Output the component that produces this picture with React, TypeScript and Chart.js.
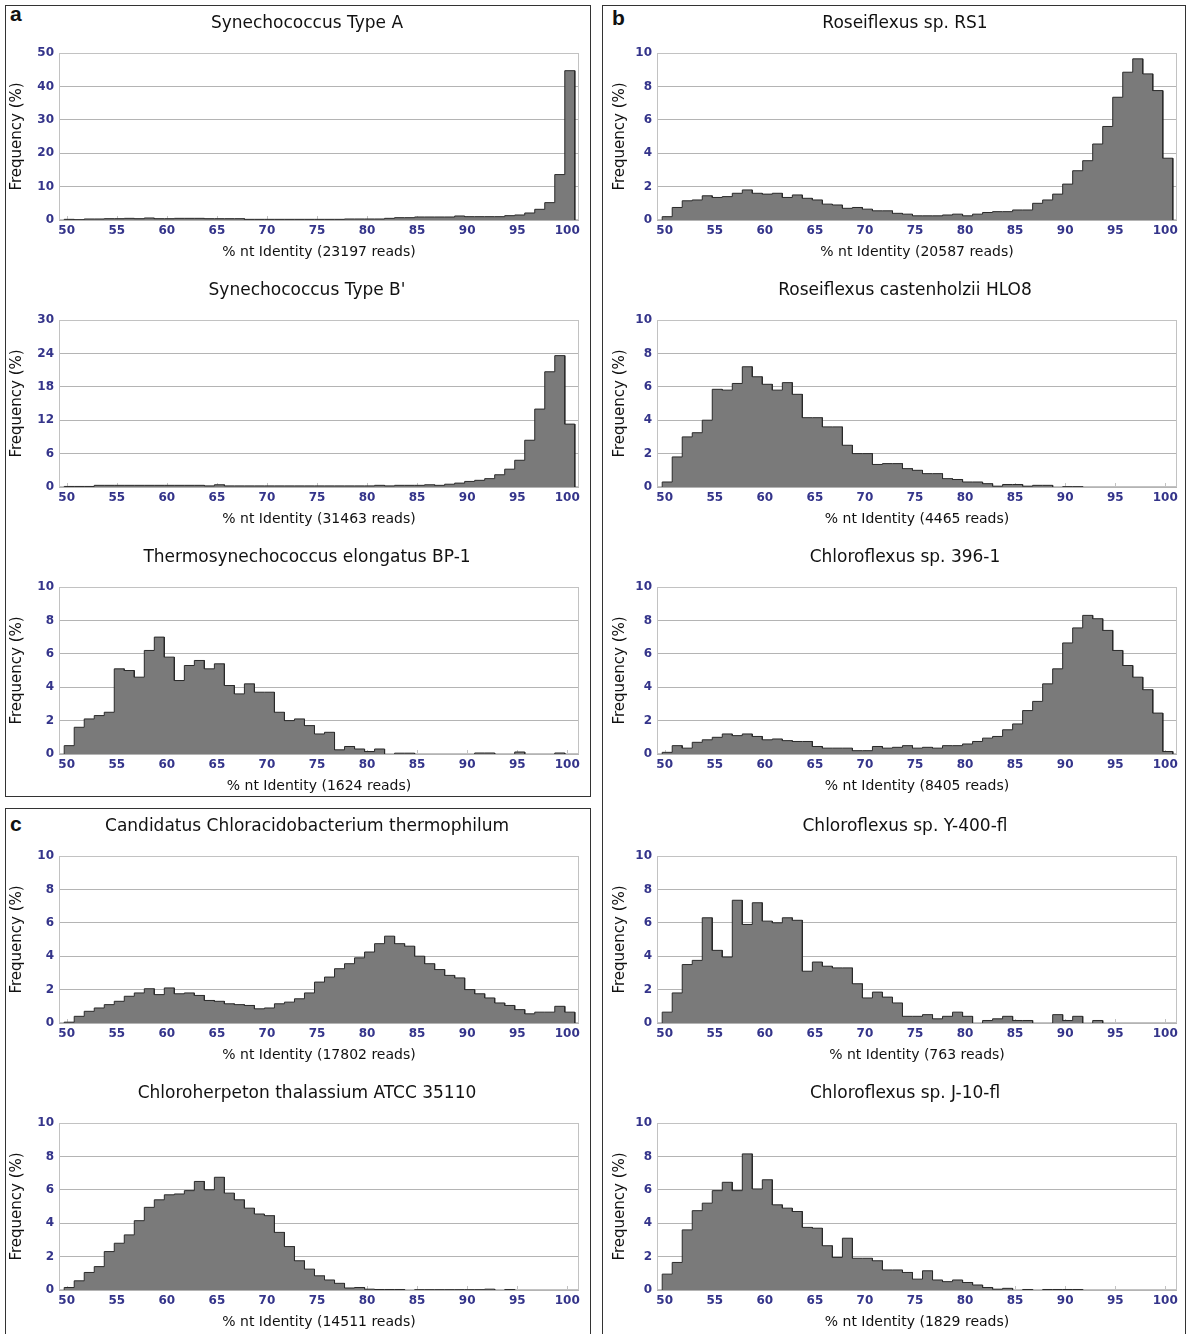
import React, { useEffect, useRef } from 'react';
import { Chart, registerables } from 'chart.js';

Chart.register(...registerables);

// ---------- data ----------
const BINS = [
  50, 51, 52, 53, 54, 55, 56, 57, 58, 59,
  60, 61, 62, 63, 64, 65, 66, 67, 68, 69,
  70, 71, 72, 73, 74, 75, 76, 77, 78, 79,
  80, 81, 82, 83, 84, 85, 86, 87, 88, 89,
  90, 91, 92, 93, 94, 95, 96, 97, 98, 99,
  100,
];
const X_TICKS = [50, 55, 60, 65, 70, 75, 80, 85, 90, 95, 100];
const Y_TICKS_A = [0, 10, 20, 30, 40, 50];
const Y_TICKS_B = [0, 6, 12, 18, 24, 30];
const Y_TICKS_STD = [0, 2, 4, 6, 8, 10];

const SYN_A = [
  0.2, 0.1, 0.3, 0.3, 0.4, 0.4, 0.5, 0.4, 0.6, 0.4,
  0.4, 0.5, 0.5, 0.5, 0.4, 0.4, 0.4, 0.4, 0.2, 0.2,
  0.2, 0.2, 0.2, 0.2, 0.2, 0.2, 0.2, 0.2, 0.3, 0.3,
  0.3, 0.3, 0.5, 0.7, 0.7, 0.9, 0.9, 0.9, 0.9, 1.2,
  1.0, 1.0, 1.0, 1.0, 1.3, 1.5, 2.1, 3.2, 5.2, 13.6,
  44.7,
];
const SYN_B = [
  0.1, 0.1, 0.1, 0.3, 0.3, 0.3, 0.3, 0.3, 0.3, 0.3,
  0.3, 0.3, 0.3, 0.3, 0.2, 0.4, 0.2, 0.2, 0.2, 0.2,
  0.2, 0.2, 0.2, 0.2, 0.2, 0.2, 0.2, 0.2, 0.2, 0.2,
  0.2, 0.3, 0.2, 0.3, 0.3, 0.3, 0.4, 0.3, 0.5, 0.7,
  1.0, 1.2, 1.5, 2.2, 3.2, 4.8, 8.4, 14.0, 20.7, 23.6,
  11.3,
];
const THERMO = [
  0.5, 1.6, 2.1, 2.3, 2.5, 5.1, 5.0, 4.6, 6.2, 7.0,
  5.8, 4.4, 5.3, 5.6, 5.1, 5.4, 4.1, 3.6, 4.2, 3.7,
  3.7, 2.5, 2.0, 2.1, 1.7, 1.2, 1.3, 0.25, 0.45, 0.3,
  0.15, 0.3, 0, 0.05, 0.05, 0, 0, 0, 0, 0,
  0, 0.06, 0.06, 0, 0, 0.12, 0, 0, 0, 0.06,
  0,
];
const CANDIDATUS = [
  0.05, 0.4, 0.7, 0.9, 1.1, 1.3, 1.6, 1.8, 2.05, 1.7,
  2.1, 1.75, 1.8, 1.65, 1.35, 1.3, 1.15, 1.1, 1.05, 0.85,
  0.9, 1.15, 1.25, 1.45, 1.8, 2.45, 2.75, 3.25, 3.55, 3.9,
  4.25, 4.75, 5.2, 4.75, 4.6, 4.0, 3.55, 3.2, 2.85, 2.7,
  2.0, 1.75, 1.5, 1.2, 1.05, 0.8, 0.55, 0.65, 0.65, 1.0,
  0.65,
];
const CHLOROHERPETON = [
  0.15, 0.55, 1.05, 1.4, 2.3, 2.8, 3.3, 4.15, 4.95, 5.4,
  5.7, 5.75, 5.95, 6.5, 6.0, 6.75, 5.8, 5.4, 4.9, 4.55,
  4.45, 3.45, 2.6, 1.75, 1.25, 0.85, 0.6, 0.4, 0.12, 0.15,
  0.05, 0.03, 0.03, 0.03, 0, 0.02, 0.02, 0.02, 0.02, 0.02,
  0.02, 0.02, 0.05, 0, 0.03, 0, 0, 0, 0, 0,
  0,
];
const ROSE_RS1 = [
  0.2, 0.75, 1.15, 1.2, 1.45, 1.35, 1.4, 1.6, 1.8, 1.6,
  1.55, 1.6, 1.35, 1.5, 1.3, 1.2, 0.95, 0.9, 0.7, 0.75,
  0.65, 0.55, 0.55, 0.4, 0.35, 0.25, 0.25, 0.25, 0.3, 0.35,
  0.25, 0.35, 0.45, 0.5, 0.5, 0.6, 0.6, 1.0, 1.2, 1.55,
  2.15, 2.95, 3.55, 4.55, 5.6, 7.35, 8.85, 9.65, 8.75, 7.75,
  3.7,
];
const ROSE_HLO8 = [
  0.3, 1.8, 3.0, 3.25, 4.0, 5.85, 5.8, 6.2, 7.2, 6.6,
  6.15, 5.8, 6.25, 5.55, 4.15, 4.15, 3.6, 3.6, 2.5, 2.0,
  2.0, 1.35, 1.4, 1.4, 1.1, 1.0, 0.8, 0.8, 0.5, 0.45,
  0.3, 0.3, 0.2, 0.05, 0.15, 0.15, 0.05, 0.1, 0.1, 0,
  0.02, 0.02, 0, 0, 0, 0, 0, 0, 0, 0,
  0,
];
const CF_396 = [
  0.1, 0.5, 0.35, 0.7, 0.85, 1.0, 1.2, 1.1, 1.2, 1.05,
  0.85, 0.9, 0.8, 0.75, 0.75, 0.45, 0.35, 0.35, 0.35, 0.2,
  0.2, 0.45, 0.35, 0.4, 0.5, 0.35, 0.4, 0.35, 0.5, 0.5,
  0.6, 0.75, 0.95, 1.05, 1.45, 1.8, 2.6, 3.15, 4.2, 5.1,
  6.65, 7.55, 8.3, 8.1, 7.4, 6.2, 5.3, 4.6, 3.85, 2.45,
  0.15,
];
const CF_Y400 = [
  0.65, 1.8, 3.5, 3.75, 6.3, 4.35, 3.95, 7.35, 5.9, 7.2,
  6.1, 6.0, 6.3, 6.15, 3.1, 3.65, 3.4, 3.3, 3.3, 2.35,
  1.5, 1.85, 1.55, 1.2, 0.4, 0.4, 0.5, 0.25, 0.4, 0.65,
  0.4, 0, 0.15, 0.25, 0.4, 0.15, 0.15, 0, 0, 0.5,
  0.15, 0.4, 0, 0.15, 0, 0, 0, 0, 0, 0,
  0,
];
const CF_J10 = [
  0.95, 1.65, 3.6, 4.75, 5.2, 5.95, 6.45, 5.95, 8.15, 6.05,
  6.6, 5.1, 4.9, 4.7, 3.75, 3.7, 2.65, 1.95, 3.1, 1.9,
  1.9, 1.75, 1.2, 1.2, 1.05, 0.65, 1.15, 0.6, 0.5, 0.6,
  0.45, 0.3, 0.15, 0.05, 0.1, 0, 0.03, 0, 0.03, 0.03,
  0.03, 0.03, 0, 0, 0, 0, 0, 0, 0, 0,
  0,
];

// ---------- styles / layout ----------
const FONT = '"DejaVu Sans", Verdana, sans-serif';
const TICK_COLOR = '#34348a';
const GRID_COLOR = '#b4b4b4';
const FRAME_COLOR = '#c2c2c2';
const FILL_COLOR = '#7a7a7a';
const EDGE_COLOR = '#2a2a2a';
const BIN_OFFSET = -0.25;
const X_MIN = 49.23;
const X_MAX = 101.17;

const CANVAS_W = 598;
const CANVAS_H = 253;
const TITLE_SPACE = 43;
const PLOT_H = 167;
const PLOT_TOPS = [53, 320, 587, 856, 1123];
const LEFT_COL_X = 8;
const RIGHT_COL_X = 606;

const framePlugin = {
  id: 'plotFrame',
  beforeDatasetsDraw(chart: any) {
    const { ctx, chartArea: a, scales } = chart;
    ctx.save();
    ctx.strokeStyle = FRAME_COLOR;
    ctx.lineWidth = 1;
    ctx.strokeRect(a.left + 0.5, a.top + 0.5, a.right - a.left - 1, a.bottom - a.top - 1);
    const xs = scales.x;
    xs.ticks.forEach((t: any) => {
      const px = Math.round(xs.getPixelForValue(t.value)) + 0.5;
      ctx.beginPath();
      ctx.moveTo(px, a.bottom);
      ctx.lineTo(px, a.bottom - 4);
      ctx.stroke();
    });
    ctx.restore();
  },
};

function outlinePoints(values: number[]) {
  const pts: { x: number; y: number }[] = [];
  pts.push({ x: BINS[0] + BIN_OFFSET, y: 0 });
  values.forEach((v, i) => {
    const l = BINS[i] + BIN_OFFSET;
    pts.push({ x: l, y: v });
    pts.push({ x: l + 1, y: v });
  });
  pts.push({ x: BINS[BINS.length - 1] + BIN_OFFSET + 1, y: 0 });
  return pts;
}

type HistProps = {
  title: string;
  reads: string;
  values: number[];
  yTicks: number[];
  left: number;
  top: number;
  yTitlePad: number;
};

function Hist({ title, reads, values, yTicks, left, top, yTitlePad }: HistProps) {
  const ref = useRef<HTMLCanvasElement | null>(null);
  useEffect(() => {
    if (!ref.current) return;
    const chart = new Chart(ref.current, {
      type: 'line',
      data: {
        datasets: [
          {
            data: outlinePoints(values),
            borderColor: EDGE_COLOR,
            borderWidth: 1,
            backgroundColor: FILL_COLOR,
            fill: 'origin',
            pointRadius: 0,
            tension: 0,
            borderJoinStyle: 'miter',
            segment: {
              borderColor: (c: any) =>
                c.p0.parsed.y === 0 && c.p1.parsed.y === 0 ? 'rgba(0,0,0,0)' : undefined,
            },
            xAxisID: 'x',
            yAxisID: 'y',
          } as any,
        ],
      },
      options: {
        responsive: false,
        animation: false,
        events: [],
        layout: { padding: 0 },
        plugins: {
          legend: { display: false },
          tooltip: { enabled: false },
          title: {
            display: true,
            text: title,
            color: '#111',
            font: { family: FONT, size: 17, weight: 'normal' },
            padding: { top: 3.8, bottom: 18.8 },
          },
        },
        scales: {
          x: {
            type: 'linear',
            min: X_MIN,
            max: X_MAX,
            afterBuildTicks: (axis: any) => {
              axis.ticks = X_TICKS.map((v) => ({ value: v }));
            },
            ticks: {
              padding: 3.5,
              color: TICK_COLOR,
              font: { family: FONT, size: 12, weight: 'bold' },
              maxRotation: 0,
              autoSkip: false,
            },
            grid: { display: false, drawTicks: false },
            border: { display: false },
            title: {
              display: true,
              text: `% nt Identity (${reads} reads)`,
              color: '#111',
              font: { family: FONT, size: 14 },
              padding: { top: 0, bottom: 2.6 },
            },
            afterFit: (s: any) => {
              s.height = CANVAS_H - TITLE_SPACE - PLOT_H;
            },
          },
          y: {
            type: 'linear',
            position: 'left',
            min: yTicks[0],
            max: yTicks[yTicks.length - 1],
            afterBuildTicks: (axis: any) => {
              axis.ticks = yTicks.map((v) => ({ value: v }));
            },
            ticks: {
              padding: 5,
              color: TICK_COLOR,
              font: { family: FONT, size: 12, weight: 'bold' },
            },
            grid: { color: GRID_COLOR, lineWidth: 1, drawTicks: false },
            border: { display: false },
            title: {
              display: true,
              text: 'Frequency (%)',
              color: '#111',
              font: { family: FONT, size: 15 },
              padding: { top: yTitlePad, bottom: 0 },
            },
            afterFit: (s: any) => {
              s.width = 51;
            },
          },
          yR: {
            type: 'linear',
            position: 'right',
            display: true,
            grid: { display: false },
            border: { display: false },
            ticks: { display: false },
            afterFit: (s: any) => {
              s.width = 27;
            },
          },
        },
      } as any,
      plugins: [framePlugin],
    });
    return () => chart.destroy();
  }, []);
  return (
    <canvas
      ref={ref}
      width={CANVAS_W}
      height={CANVAS_H}
      style={{ position: 'absolute', left, top, width: CANVAS_W, height: CANVAS_H }}
    />
  );
}

const LEFT_CHARTS = [
  { title: 'Synechococcus Type A', reads: '23197', values: SYN_A, yTicks: Y_TICKS_A },
  { title: "Synechococcus Type B'", reads: '31463', values: SYN_B, yTicks: Y_TICKS_B },
  { title: 'Thermosynechococcus elongatus BP-1', reads: '1624', values: THERMO, yTicks: Y_TICKS_STD },
  { title: 'Candidatus Chloracidobacterium thermophilum', reads: '17802', values: CANDIDATUS, yTicks: Y_TICKS_STD },
  { title: 'Chloroherpeton thalassium ATCC 35110', reads: '14511', values: CHLOROHERPETON, yTicks: Y_TICKS_STD },
];
const RIGHT_CHARTS = [
  { title: 'Roseiflexus sp. RS1', reads: '20587', values: ROSE_RS1, yTicks: Y_TICKS_STD },
  { title: 'Roseiflexus castenholzii HLO8', reads: '4465', values: ROSE_HLO8, yTicks: Y_TICKS_STD },
  { title: 'Chloroflexus sp. 396-1', reads: '8405', values: CF_396, yTicks: Y_TICKS_STD },
  { title: 'Chloroflexus sp. Y-400-fl', reads: '763', values: CF_Y400, yTicks: Y_TICKS_STD },
  { title: 'Chloroflexus sp. J-10-fl', reads: '1829', values: CF_J10, yTicks: Y_TICKS_STD },
];

const panelBox = (left: number, top: number, width: number, height: number): React.CSSProperties => ({
  position: 'absolute',
  left,
  top,
  width,
  height,
  border: '1.5px solid #333',
  boxSizing: 'border-box',
});

const letterStyle = (left: number, top: number): React.CSSProperties => ({
  position: 'absolute',
  left,
  top,
  font: 'bold 21px "Liberation Sans", Arial, sans-serif',
  color: '#111',
  lineHeight: '24px',
});

export default function App() {
  return (
    <div
      style={{
        position: 'absolute',
        left: 0,
        top: 0,
        width: 1190,
        height: 1334,
        overflow: 'hidden',
        background: '#fff',
      }}
    >
      <div style={panelBox(5, 5, 586, 792)} />
      <div style={panelBox(5, 808, 586, 540)} />
      <div style={panelBox(602, 5, 584, 1340)} />
      <div style={letterStyle(10, 2)}>a</div>
      <div style={letterStyle(612, 6)}>b</div>
      <div style={letterStyle(10, 812)}>c</div>
      {LEFT_CHARTS.map((c, i) => (
        <Hist
          key={'l' + i}
          title={c.title}
          reads={c.reads}
          values={c.values}
          yTicks={c.yTicks}
          left={LEFT_COL_X}
          top={PLOT_TOPS[i] - TITLE_SPACE}
          yTitlePad={0}
        />
      ))}
      {RIGHT_CHARTS.map((c, i) => (
        <Hist
          key={'r' + i}
          title={c.title}
          reads={c.reads}
          values={c.values}
          yTicks={c.yTicks}
          left={RIGHT_COL_X}
          top={PLOT_TOPS[i] - TITLE_SPACE}
          yTitlePad={5}
        />
      ))}
    </div>
  );
}
